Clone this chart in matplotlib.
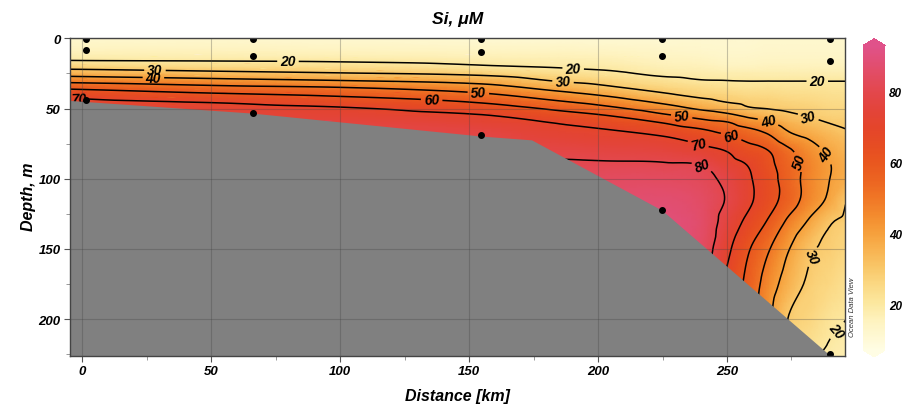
import numpy as np
import matplotlib
matplotlib.use('Agg')
import matplotlib.pyplot as plt
import matplotlib.tri as mtri
from matplotlib.colors import LinearSegmentedColormap, Normalize
from matplotlib.ticker import MultipleLocator

plt.rcParams['font.family'] = ['Liberation Sans', 'DejaVu Sans']
plt.rcParams['font.weight'] = 'bold'
plt.rcParams['font.style'] = 'italic'

# gridded section
distance_km = [-5, 50, 100, 155, 185, 205, 225, 240, 250, 258, 266, 274, 282, 290, 296]
depth_m = [0, 10, 15, 20, 25, 30, 35, 40, 45, 50, 55, 60, 65, 70, 80, 90, 100, 115, 130, 150, 175, 200, 226]

# Si [uM], one list per distance column, surface -> bottom
si_columns = [
    [12, 16, 19.2, 26.6, 35.7, 46.5, 57.7, 66.7, 72, 73, 74, 75, 75, 75, 76, 76, 76, 76, 76, 76, 76, 76, 76],
    [12, 16, 18.9, 24.9, 32.9, 42.9, 52.9, 61.7, 69.2, 73, 75, 76, 76, 76, 77, 77, 77, 77, 77, 77, 77, 77, 77],
    [11.5, 15.5, 18.5, 23.5, 30.7, 40, 50.2, 58, 65.2, 71, 73.6, 76, 77, 77, 78, 78, 78, 78, 78, 78, 78, 78, 78],
    [11, 15, 17.5, 20.8, 27.8, 36, 44.1, 51.5, 58.6, 65.1, 70.6, 73.5, 76.4, 78, 79, 79.5, 80, 80, 80, 80, 80, 80, 80],
    [11, 15, 17, 19.3, 23.7, 29.0, 36.1, 43.5, 50.7, 58.1, 64, 69.4, 71.8, 73.9, 78, 81, 82, 83, 83, 83, 83, 83, 83],
    [11, 14.5, 16.5, 18.5, 21.3, 26, 31.1, 37.9, 44.9, 52.1, 59.7, 64.8, 69.9, 72.3, 76.9, 81, 84, 86, 87, 87, 87, 87, 87],
    [11, 13.5, 15, 16.5, 18.5, 22.3, 26.6, 31.4, 37.9, 44.7, 51.9, 59.7, 65.2, 70.3, 75.9, 80.8, 84, 87.5, 89, 89, 89, 89, 89],
    [11.5, 13, 14.5, 16, 18, 20.3, 24.3, 27.6, 32.7, 38.6, 46.4, 53.5, 60.6, 65.5, 72.9, 79.8, 82.5, 85, 86, 85, 84, 84, 84],
    [11.5, 12.5, 13.5, 15, 17.5, 20, 23.1, 26.3, 29.5, 35.3, 42.5, 50.7, 56, 61.3, 69.6, 73.9, 77.7, 79.3, 76.3, 72.2, 68, 66, 65],
    [11.5, 12.5, 13.5, 15, 17.5, 19.8, 22.1, 25, 28, 31.1, 38.2, 44.8, 51.8, 56.6, 64, 69.7, 71.5, 72.1, 67.9, 61.3, 57.4, 56, 55],
    [12, 13, 14, 15.5, 17.5, 19.8, 22.5, 25, 27.5, 29.8, 34.4, 41.4, 46.9, 51.5, 60.1, 62.6, 64.2, 64.3, 59.2, 50.9, 45.3, 42, 40],
    [12, 13, 14, 15.5, 17.5, 19.8, 21.9, 24.1, 26.4, 28.7, 31.5, 35.2, 38.9, 42.6, 51.5, 54.4, 55, 55.3, 48.1, 40.3, 35.3, 29.5, 27],
    [12, 13, 14, 15.5, 17.5, 19.8, 21.8, 23.8, 25.7, 27.6, 29.5, 32.3, 35.5, 38.6, 44.1, 46.6, 46.3, 45.6, 39, 31.5, 28.4, 26, 22],
    [12, 13, 14, 15.5, 17.5, 19.8, 21.5, 23, 24.5, 26, 27.5, 29.7, 32, 34.5, 38.2, 40.2, 39.9, 38, 31, 28.2, 25.5, 21.8, 18.5],
    [12, 13, 14, 15.5, 17.5, 19.8, 21.3, 22.8, 24.2, 25.7, 27.2, 28.7, 30.2, 32, 35, 36.8, 36.5, 30.7, 28.2, 26.1, 23.1, 20.1, 17.5],
]

contour_levels = [20, 30, 40, 50, 60, 70, 80]

# seafloor
bottom_km = [-5, 65.7, 154.8, 174.2, 224.7, 290]
bottom_m = [44.2, 53.2, 69.6, 72.3, 122.3, 225.9]

# stations and sample depths
station_km = [1.5, 66, 154.7, 224.8, 290]
sample_depth_m = [[0.8, 8.4, 43.7], [0.8, 12.3, 53.2], [0.8, 9.9, 69], [0.8, 12.3, 122], [0.8, 16.3, 224.6]]

# ODV-like palette
cmap_values = [7, 15, 20, 25, 30, 35, 40, 45, 50, 55, 60, 65, 70, 75, 80, 85, 93]
cmap_colors = ['#fffde4', '#fef3c0', '#fce8a0', '#fbda86', '#f9c86a', '#f8b452', '#f6a03c', '#f38b2e',
               '#f07626', '#ec6421', '#e9571f', '#e64c23', '#e4452b', '#e3443a', '#e3474c', '#e24c63', '#e0528a']
vmin, vmax = cmap_values[0], cmap_values[-1]
cmap = LinearSegmentedColormap.from_list(
    'odv', [((v - vmin) / (vmax - vmin), c) for v, c in zip(cmap_values, cmap_colors)])
norm = Normalize(vmin, vmax)

X, Y = np.meshgrid(distance_km, depth_m)
Z = np.array(si_columns).T

# smooth the read grid with matplotlib's tri refiner, working in
# roughly isotropic (screen-like) units, then map back to km / m
sx, sy = 2.58, 1.40
tri_s = mtri.Triangulation(X.ravel() * sx, Y.ravel() * sy)
interp = mtri.CubicTriInterpolator(tri_s, Z.ravel(), kind='geom')
tri_r, si_fine = mtri.UniformTriRefiner(tri_s).refine_field(Z.ravel(), triinterpolator=interp, subdiv=3)
tri_fine = mtri.Triangulation(tri_r.x / sx, tri_r.y / sy, tri_r.triangles)

fig = plt.figure(figsize=(9.06, 4.10), dpi=100)
ax = fig.add_axes([0.0778, 0.130, 0.855, 0.774])

mesh = ax.tripcolor(tri_fine, si_fine, cmap=cmap, norm=norm, shading='gouraud', zorder=0)

label_spots = {
    20: [(79.7, 18.2), (190.3, 22.3), (285, 31.1), (291.9, 206.8)],
    30: [(28.1, 23.4), (186.4, 30.4), (281.5, 56), (282.2, 155)],
    40: [(27.5, 29.4), (266, 59), (288.3, 83.2)],
    50: [(153.5, 40.1), (232.4, 55.6), (278.3, 87.5)],
    60: [(135.4, 44.9), (251.8, 68.7)],
    70: [(-1.6, 42.5), (238.9, 74.6)],
    80: [(240.2, 91.3)],
}
# one contour set per level so each label lands on its own line
for lev in contour_levels:
    cs = ax.tricontour(tri_fine, si_fine, levels=[lev], colors='k', linewidths=1.1, zorder=1)
    ax.clabel(cs, manual=label_spots[lev], fmt='%d', fontsize=10, inline=True, inline_spacing=3)

ax.fill_between(bottom_km, bottom_m, 300, color='#808080', lw=0, zorder=3)

for km, depths in zip(station_km, sample_depth_m):
    ax.plot([km] * len(depths), depths, 'o', color='k', ms=4, zorder=6)

ax.set_xlim(-4.65, 295.8)
ax.set_ylim(226, 0)
ax.xaxis.set_major_locator(MultipleLocator(50))
ax.xaxis.set_minor_locator(MultipleLocator(25))
ax.yaxis.set_major_locator(MultipleLocator(50))
ax.yaxis.set_minor_locator(MultipleLocator(25))
ax.tick_params(which='major', direction='out', length=4, width=0.8, color='#555555',
               labelsize=9.5, pad=3)
ax.tick_params(which='minor', direction='out', length=3, width=0.6, color='#888888')
ax.grid(which='major', color='#404040', alpha=0.3, lw=0.8)
ax.xaxis.set_zorder(5)
ax.yaxis.set_zorder(5)
for sp in ax.spines.values():
    sp.set_color('#444444')
    sp.set_linewidth(1)
    sp.set_zorder(7)

fig.text(0.505, 0.952, 'Si, μM', ha='center', va='center', fontsize=12.5)
fig.text(0.505, 0.032, 'Distance [km]', ha='center', va='center', fontsize=11.5)
fig.text(0.031, 0.52, 'Depth, m', ha='center', va='center', rotation=90, fontsize=11.5)
fig.text(0.9415, 0.25, 'Ocean Data View', ha='center', va='center', rotation=90,
         fontsize=5.5, fontweight='normal', color='#333333')

cax = fig.add_axes([0.9526, 0.127, 0.0243, 0.776])
cbar = fig.colorbar(mesh, cax=cax, extend='both', extendfrac=0.022)
cbar.set_ticks([20, 40, 60, 80])
cbar.outline.set_visible(False)
cbar.ax.tick_params(length=0, pad=3, labelsize=8.5)

fig.savefig('out.png', dpi=100)
